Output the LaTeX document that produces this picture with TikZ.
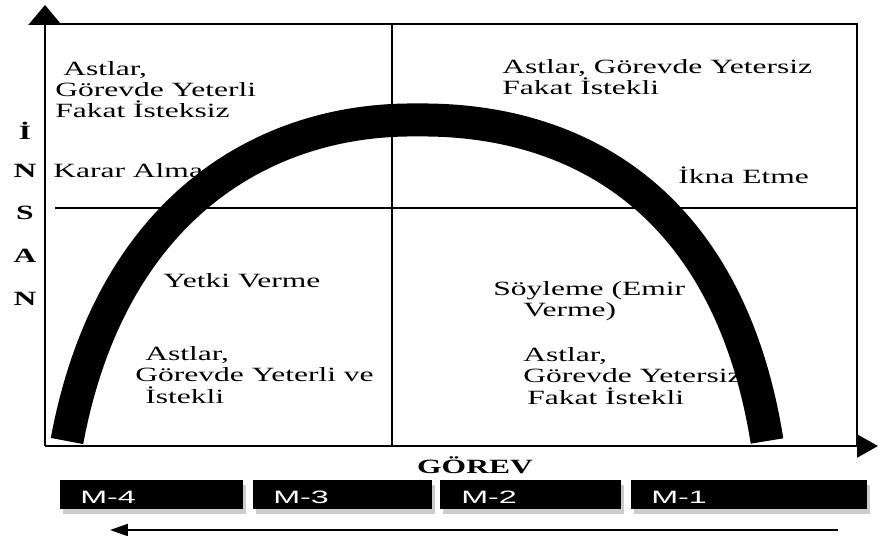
\documentclass[tikz,border=0pt]{standalone}
\usepackage{fontspec}
\setmainfont{Liberation Serif}[FakeStretch=1.56]
\newfontfamily\boxfont{Liberation Sans}[FakeStretch=1.8]
\usetikzlibrary{arrows.meta,shadows}

\begin{document}
\begin{tikzpicture}[
    x=0.02cm, y=-0.02cm,
    quad/.style={anchor=base west, inner sep=0pt, align=left, font=\fontsize{11.5}{12.2}\selectfont},
    axisletter/.style={anchor=base, inner sep=0pt, font=\fontsize{11.5}{12.2}\selectfont\bfseries},
    grid/.style={line width=0.8pt},
    axis/.style={line width=1.3pt},
    arch/.style={line width=0.66cm, line cap=butt},
    mbox/.style={rectangle, fill=black, minimum height=0.58cm, anchor=north west, inner sep=0pt,
        drop shadow={shadow xshift=0.06cm, shadow yshift=-0.1cm, fill=gray!40, opacity=1}},
    mlabel/.style={anchor=base west, inner sep=0pt, text=white, font=\boxfont\fontsize{10.2}{11}\selectfont},
    arrow/.style={line width=1.1pt, -{Triangle[length=0.36cm,width=0.24cm]}}
]
\useasboundingbox (0,0) rectangle (878,536);

% frame and quadrants
\coordinate (o) at (45,446);
\coordinate (ytip) at (45,5);
\coordinate (xtip) at (878,446);
\coordinate (tl) at (45,24);
\coordinate (tr) at (857,24);
\coordinate (br) at (857,446);
\coordinate (mt) at (392,24);
\coordinate (mb) at (392,446);
\coordinate (ml) at (55,208);
\coordinate (mr) at (857,208);

\draw[grid] (tl) -- (tr) -- (br);
\draw[grid] (mt) -- (mb);
\draw[grid] (ml) -- (mr);

% quadrant texts (placed by the baseline of their last line)
\node[quad] (q2) at (55,118) {\hspace{0.16cm}Astlar,\\Görevde Yeterli\\Fakat İsteksiz};
\node[quad] (karar) at (53,178) {Karar Alma};
\node[quad] (q1) at (502,95) {Astlar, Görevde Yetersiz\\Fakat İstekli};
\node[quad] (ikna) at (678,184) {İkna Etme};
\node[quad] (yetki) at (163,288) {Yetki Verme};
\node[quad] (q3) at (135,403) {\hspace{0.2cm}Astlar,\\Görevde Yeterli ve\\\hspace{0.2cm}İstekli};
\node[quad] (soyle) at (493,317) {Söyleme (Emir\\\hspace{0.6cm}Verme)};
\node[quad] (q4) at (523,404) {Astlar,\\Görevde Yetersiz\\\hspace{0.08cm}Fakat İstekli};

% the arch
\coordinate (footL) at (67,441);
\coordinate (peak) at (417,120);
\coordinate (footR) at (767,441);
\draw[arch] (footL) .. controls (110,210) and (262,118) .. (peak)
    .. controls (579,118) and (729,203) .. (footR);

% axes
\draw[axis, -{Triangle[length=0.4cm,width=0.66cm]}] (o) -- (ytip);
\draw[axis, -{Triangle[length=0.42cm,width=0.46cm]}] (o) -- (xtip);

\node[axisletter] (i1) at (25,140) {İ};
\node[axisletter] (n1) at (25,178) {N};
\node[axisletter] (s1) at (25,220) {S};
\node[axisletter] (a1) at (25,263) {A};
\node[axisletter] (n2) at (25,306) {N};

\node[axisletter] (gorev) at (475,473) {GÖREV};

% maturity levels
\node[mbox, minimum width=3.66cm] (m4) at (60,480) {};
\node[mbox, minimum width=3.58cm] (m3) at (253,480) {};
\node[mbox, minimum width=3.62cm] (m2) at (440,480) {};
\node[mbox, minimum width=4.72cm] (m1) at (631,480) {};
\node[mlabel] (m4t) at (80,503) {M-4};
\node[mlabel] (m3t) at (273,503) {M-3};
\node[mlabel] (m2t) at (461,503) {M-2};
\node[mlabel] (m1t) at (651,503) {M-1};

\coordinate (arrR) at (838,530);
\coordinate (arrL) at (110,530);
\draw[arrow] (arrR) -- (arrL);
\end{tikzpicture}
\end{document}
